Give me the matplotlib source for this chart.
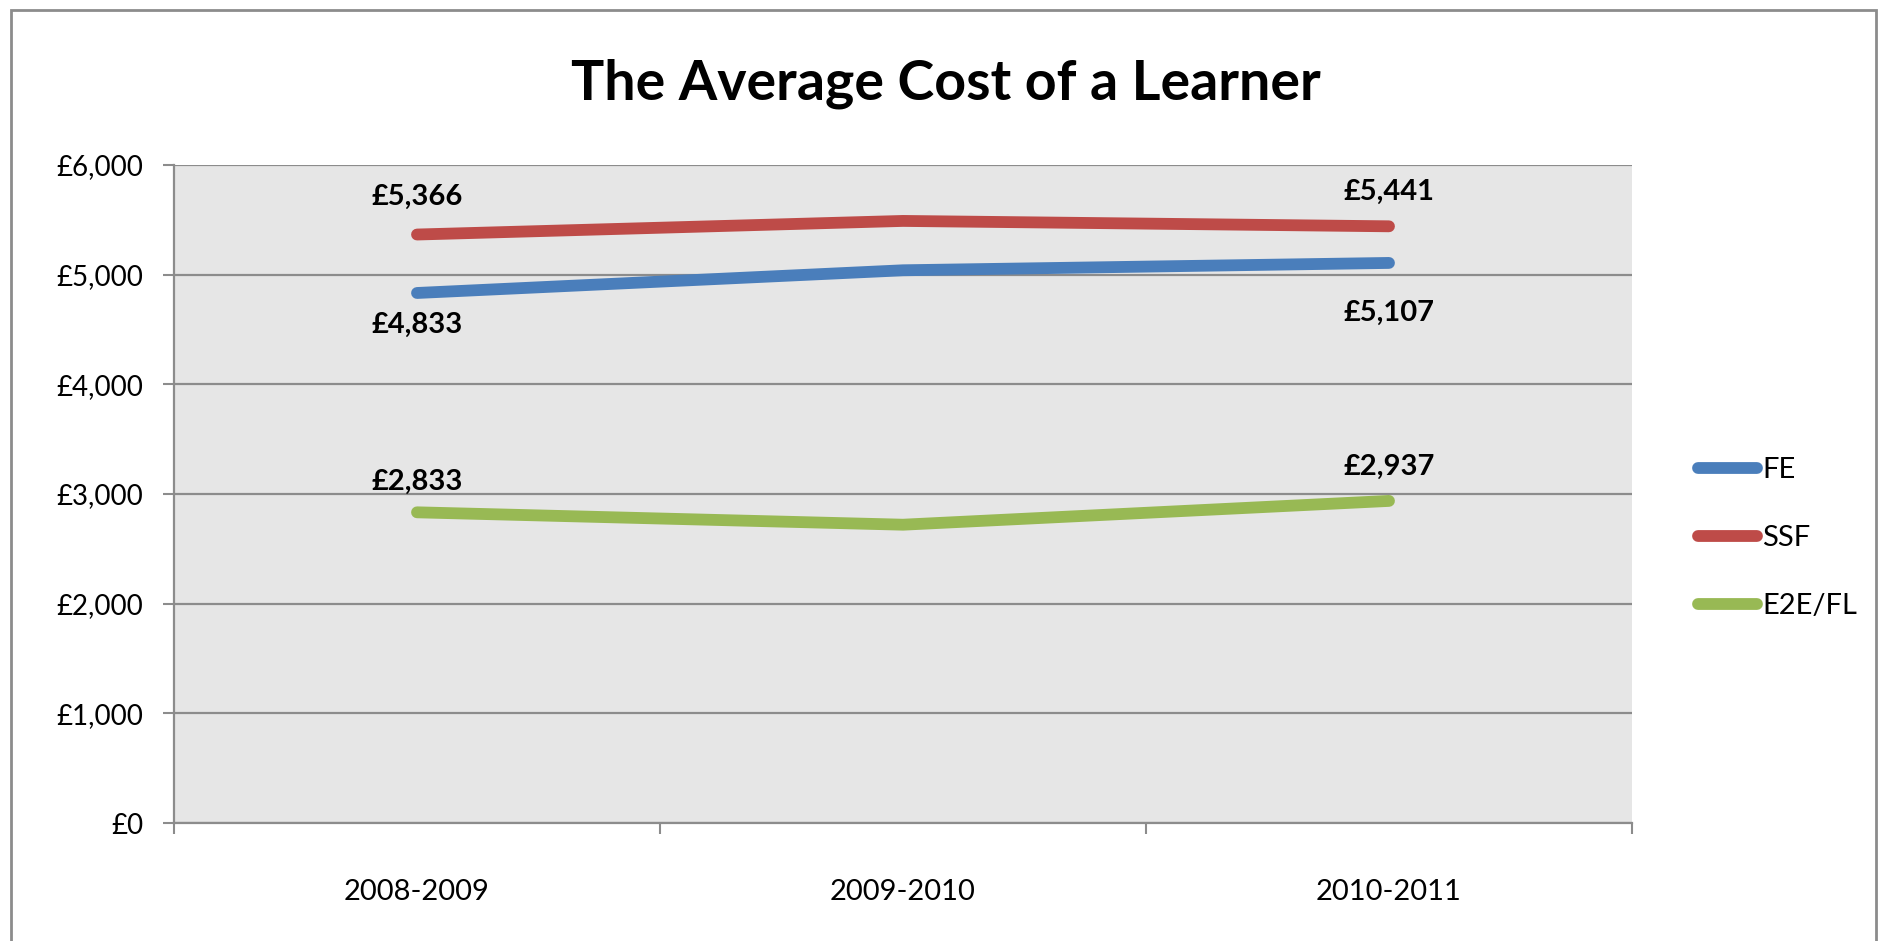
import matplotlib
matplotlib.use("Agg")
from matplotlib import pyplot as plt
from matplotlib.patches import Rectangle

years = ["2008-2009", "2009-2010", "2010-2011"]
fe = [4833, 5040, 5107]
ssf = [5366, 5490, 5441]
e2e = [2833, 2720, 2937]

plt.rcParams["font.family"] = ["Lato", "DejaVu Sans"]

fig = plt.figure(figsize=(18.79, 9.41), dpi=100)
ax = fig.add_axes([174 / 1879, 1 - 823 / 941, 1458 / 1879, 658 / 941])

# outer chart frame
fig.patches.append(Rectangle((11 / 1879, -0.01), 1865 / 1879, 1 - 10 / 941 + 0.01,
                             transform=fig.transFigure, fill=False,
                             edgecolor="#8c8c8c", linewidth=2))

ax.set_facecolor("#e6e6e6")
xs = range(len(years))
ax.plot(xs, fe, color="#4a7ebb", linewidth=8.5, solid_capstyle="round", label="FE", zorder=3)
ax.plot(xs, ssf, color="#be4b48", linewidth=8.5, solid_capstyle="round", label="SSF", zorder=3)
ax.plot(xs, e2e, color="#98b954", linewidth=8.5, solid_capstyle="round", label="E2E/FL", zorder=3)

# data labels on first and last points
offsets = {"ssf": [38, 34], "fe": [-32, -50], "e2e": [30, 34]}
for key, vals in [("ssf", ssf), ("fe", fe), ("e2e", e2e)]:
    for j, i in enumerate([0, 2]):
        ax.annotate("£{:,}".format(vals[i]), (i, vals[i]), xytext=(0, offsets[key][j]),
                    textcoords="offset pixels", ha="center", va="center",
                    fontsize=21, fontweight="bold")

ax.set_xlim(-0.5, 2.5)
ax.set_ylim(0, 6000)
ax.set_yticks(range(0, 6001, 1000))
ax.set_yticklabels(["£{:,}".format(v) for v in range(0, 6001, 1000)])
ax.yaxis.grid(True, color="#8c8c8c", linewidth=1.6)
ax.set_axisbelow(True)
ax.set_xticks(list(xs))
ax.set_xticklabels(years)
ax.set_xticks([-0.5, 0.5, 1.5, 2.5], minor=True)
ax.tick_params(axis="x", which="major", length=0, pad=40, labelsize=21)
ax.tick_params(axis="x", which="minor", length=8, width=1.5, color="#8c8c8c")
ax.tick_params(axis="y", length=8, width=1.5, color="#8c8c8c", pad=14, labelsize=20)
for s in ["top", "right"]:
    ax.spines[s].set_visible(False)
for s in ["left", "bottom"]:
    ax.spines[s].set_color("#8c8c8c")
    ax.spines[s].set_linewidth(1.6)

fig.text(946 / 1879, 1 - 84 / 941, "The Average Cost of a Learner", ha="center", va="center",
         fontsize=40, fontweight="bold")

fig.legend(loc="center left", bbox_to_anchor=(1672 / 1879, 1 - 538 / 941), frameon=False,
           fontsize=21, handlelength=2.0, handletextpad=0.2, labelspacing=1.45)

fig.savefig("out.png", dpi=100)
